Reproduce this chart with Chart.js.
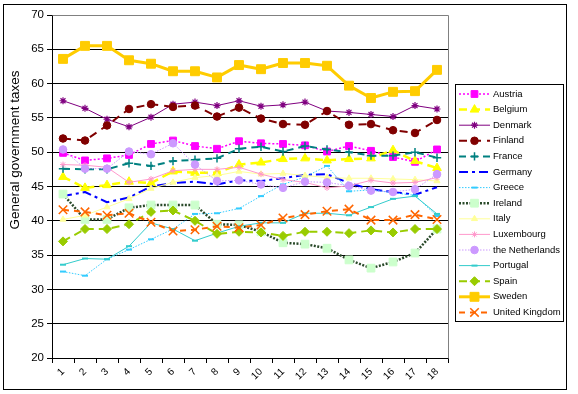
<!DOCTYPE html>
<html><head><meta charset="utf-8">
<script src="https://cdn.jsdelivr.net/npm/chart.js@4.4.1/dist/chart.umd.min.js"></script>
<style>html,body{margin:0;padding:0;background:#fff;}#wrap{width:578px;height:394px;}</style>
</head><body><div id="wrap"><canvas id="c" width="578" height="394"></canvas></div>
<script>
const categories = ['1','2','3','4','5','6','7','8','9','10','11','12','13','14','15','16','17','18'];
const yTicks = [20,25,30,35,40,45,50,55,60,65,70];
const yTitle = 'General government taxes';
const seriesNames = ['Austria','Belgium','Denmark','Finland','France','Germany','Greece','Ireland','Italy','Luxembourg','the Netherlands','Portugal','Spain','Sweden','United Kingdom'];

const austria     = [49.9,48.8,49.1,49.6,51.2,51.7,50.9,50.5,51.6,51.3,51.2,51.0,50.1,50.9,50.2,49.3,48.6,50.4];
const belgium     = [46.4,44.8,45.2,45.7,45.5,47.2,47.0,47.0,48.2,48.5,49.0,49.1,48.8,49.0,49.1,50.3,48.7,47.7];
const denmark     = [57.5,56.4,54.8,53.7,55.1,57.0,57.3,56.8,57.5,56.7,56.9,57.3,56.0,55.8,55.5,55.2,56.8,56.3];
const finland     = [52.0,51.7,53.9,56.3,57.0,56.6,56.8,55.2,56.5,54.9,54.1,54.0,56.0,54.0,54.1,53.2,52.8,54.7];
const france      = [47.6,47.5,47.5,48.4,48.0,48.7,48.9,49.1,50.5,50.8,50.1,50.9,50.4,50.0,49.5,49.5,50.0,49.2];
const germany     = [43.6,44.2,42.7,43.4,45.0,45.5,45.7,45.3,45.9,45.8,46.2,46.7,46.8,45.5,44.6,44.2,43.8,44.9];
const greece      = [32.6,32.0,34.4,35.8,37.3,38.8,41.0,41.1,41.8,43.6,45.3,46.4,48.0,44.3,44.5,44.1,43.7,40.7];
const ireland     = [43.9,40.2,40.2,41.9,42.3,42.3,42.3,39.5,39.4,38.4,36.8,36.6,36.0,34.3,33.1,34.0,35.3,38.8];
const italy       = [40.2,40.8,42.0,43.2,44.7,45.6,46.3,46.6,47.2,46.8,46.9,46.6,46.3,46.2,46.2,46.1,46.0,45.8];
const luxembourg  = [48.2,48.1,47.8,45.6,46.1,47.3,47.5,47.5,47.8,46.8,46.0,45.6,44.8,45.1,45.9,45.5,45.6,46.3];
const netherlands = [50.4,47.6,47.6,50.1,49.7,51.3,48.2,45.8,45.9,45.3,44.8,45.7,45.6,45.1,44.4,44.2,44.6,46.8];
const portugal    = [33.6,34.5,34.4,36.3,39.7,38.8,37.1,38.2,39.2,39.7,39.7,41.1,41.1,40.8,42.0,43.2,43.6,41.0];
const spain       = [37.0,38.8,38.8,39.5,41.3,41.5,40.0,38.1,38.4,38.3,37.8,38.4,38.4,38.2,38.6,38.3,38.8,38.8];
const sweden      = [63.6,65.5,65.5,63.4,62.9,61.8,61.8,60.9,62.7,62.1,63.0,63.0,62.6,59.7,57.9,58.8,58.9,62.0];
const unitedKingdom = [41.6,41.3,40.8,41.1,39.8,38.5,38.7,39.2,39.0,39.4,40.4,40.9,41.4,41.7,40.1,40.1,40.9,40.2];

const seriesValues = [austria,belgium,denmark,finland,france,germany,greece,ireland,italy,luxembourg,netherlands,portugal,spain,sweden,unitedKingdom];

// styles: [lineColor, lineWidth, dash, pointStyle, radius, markerFill, markerBorder, markerBorderWidth]
const styles = [
  ['#FF00FF',1.5,[2,2],'rect',4.8,'#FF00FF','#FF00FF',1],
  ['#FFFF00',2.5,[8,5],'triangle',5,'#FFFF00','#FFFF00',1],
  ['#800080',1,[],'star',3.5,'#800080','#800080',1.2],
  ['#800000',2,[8,6],'circle',3.8,'#800000','#800000',1],
  ['#008080',2,[7,5],'cross',4.2,'#008080','#008080',1.5],
  ['#0000FF',2,[9,4,3,4],'line',0,'#0000FF','#0000FF',1],
  ['#33CCFF',1,[1.5,1.5],'line',3,'#33CCFF','#33CCFF',2],
  ['#2A4A2A',2.5,[2,1.5],'rect',5.5,'#CCFFCC','#CCFFCC',1],
  ['#FFFF99',1,[],'triangle',3.5,'#FFFF99','#FFFF99',1],
  ['#FF99CC',1,[],'star',3,'#FF99CC','#FF99CC',1],
  ['#CC99FF',1,[1.5,1.5],'circle',3.8,'#CC99FF','#CC99FF',1],
  ['#33CCCC',1,[],'line',3,'#33CCCC','#33CCCC',2],
  ['#99CC00',2,[8,5],'rectRot',4.5,'#99CC00','#99CC00',1],
  ['#FFCC00',3,[],'rect',6.3,'#FFCC00','#FFCC00',1],
  ['#FF6600',2,[6,5],'crossRot',6,'#FF6600','#FF6600',1.5]
];

const datasets = seriesNames.map((name, i) => {
  const s = styles[i];
  return {
    label: name,
    data: seriesValues[i],
    borderColor: s[0], backgroundColor: s[0], borderWidth: s[1], borderDash: s[2],
    pointStyle: s[3], pointRadius: s[4], pointHoverRadius: s[4],
    pointBackgroundColor: s[5], pointBorderColor: s[6], pointBorderWidth: s[7],
    tension: 0, fill: false, order: -i
  };
});

const F = 'Liberation Sans, Arial, sans-serif';

const decor = {
  id: 'decor',
  beforeDraw(chart) {
    const ctx = chart.ctx;
    ctx.save();
    ctx.fillStyle = '#fff';
    ctx.fillRect(0, 0, chart.width, chart.height);
    ctx.strokeStyle = '#000'; ctx.lineWidth = 1;
    ctx.strokeRect(3.5, 4.5, 563, 385);
    ctx.restore();
  },
  beforeDatasetsDraw(chart) {
    const ctx = chart.ctx, a = chart.chartArea;
    ctx.save();
    ctx.strokeStyle = '#808080'; ctx.lineWidth = 1;
    ctx.beginPath();
    ctx.moveTo(Math.round(a.left) + 0.5, Math.round(a.top) + 0.5);
    ctx.lineTo(Math.round(a.right) + 0.5, Math.round(a.top) + 0.5);
    ctx.lineTo(Math.round(a.right) + 0.5, Math.round(a.bottom) + 0.5);
    ctx.stroke();
    ctx.restore();
  },
  afterDraw(chart) {
    const ctx = chart.ctx;
    // y axis title
    ctx.save();
    ctx.translate(15, 150);
    ctx.rotate(-Math.PI / 2);
    ctx.fillStyle = '#000';
    ctx.font = '13.5px ' + F;
    ctx.textAlign = 'center'; ctx.textBaseline = 'middle';
    ctx.fillText(yTitle, 0, 0);
    ctx.restore();
    // legend
    ctx.save();
    ctx.strokeStyle = '#000'; ctx.lineWidth = 1;
    ctx.strokeRect(455.5, 84.5, 108, 237);
    chart.data.datasets.forEach((ds, i) => {
      const cy = 94 + i * 15.6;
      ctx.save();
      ctx.strokeStyle = ds.borderColor; ctx.lineWidth = ds.borderWidth;
      ctx.setLineDash(ds.borderDash || []);
      ctx.beginPath(); ctx.moveTo(459, cy); ctx.lineTo(490, cy); ctx.stroke();
      ctx.restore();
      if (ds.pointRadius > 0) {
        ctx.save();
        ctx.setLineDash([]);
        ctx.fillStyle = ds.pointBackgroundColor; ctx.strokeStyle = ds.pointBorderColor; ctx.lineWidth = ds.pointBorderWidth;
        Chart.helpers.drawPoint(ctx, {pointStyle: ds.pointStyle, radius: ds.pointRadius, rotation: 0, borderWidth: ds.pointBorderWidth}, 474.5, cy);
        ctx.restore();
      }
      ctx.fillStyle = '#000';
      ctx.font = '9.5px ' + F;
      ctx.textAlign = 'left'; ctx.textBaseline = 'middle';
      ctx.fillText(ds.label, 493, cy);
    });
    ctx.restore();
  }
};

new Chart(document.getElementById('c'), {
  type: 'line',
  data: { labels: categories, datasets },
  options: {
    responsive: false, animation: false, devicePixelRatio: 1,
    layout: { padding: { left: 0, top: 15, right: 130, bottom: 0 } },
    plugins: { legend: { display: false }, tooltip: { enabled: false } },
    elements: { line: { borderJoinStyle: 'round' } },
    scales: {
      x: {
        type: 'category', offset: true,
        grid: { display: true, drawOnChartArea: false, drawTicks: true, tickLength: 5, color: '#000', offset: true },
        border: { display: true, color: '#000', width: 1 },
        ticks: { font: { family: F, size: 10 }, color: '#000', minRotation: 45, maxRotation: 45, autoSkip: false, padding: 3 },
        afterFit(s) { s.height = 36; }
      },
      y: {
        min: 20, max: 70,
        afterBuildTicks(s) { s.ticks = yTicks.map(v => ({ value: v })); },
        ticks: { font: { family: F, size: 11.5 }, color: '#000', padding: 3 },
        grid: { color: '#000', tickLength: 5, drawTicks: true },
        border: { display: true, color: '#000', width: 1 },
        afterFit(s) { s.width = 52; }
      }
    }
  },
  plugins: [decor]
});
</script></body></html>
